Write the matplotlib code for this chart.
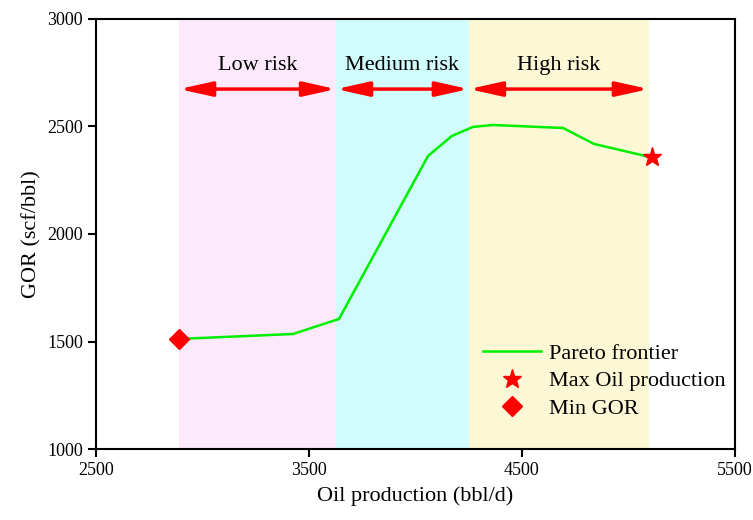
import matplotlib.pyplot as plt

plt.rcParams['font.family'] = ['Liberation Serif', 'DejaVu Serif']

# pareto frontier
oil = [2890, 3425, 3641, 4059, 4171, 4270, 4364, 4693, 4838, 5101]
gor = [1512, 1535, 1605, 2363, 2456, 2498, 2507, 2493, 2419, 2358]

max_oil = (5110, 2358)
min_gor = (2890, 1512)

# risk zones
zone_edges = [2890, 3627, 4251, 5096]
zone_names = ["Low risk", "Medium risk", "High risk"]
zone_colors = ["#FCE9FC", "#D0FCFC", "#FCF8D6"]
arrow_y = 2674
label_y = 2785

fig = plt.figure(figsize=(7.53, 5.2), dpi=100)
ax = fig.add_axes([0.1275, 0.1365, 0.8485, 0.827])

for i in range(3):
    ax.axvspan(zone_edges[i], zone_edges[i + 1], color=zone_colors[i], lw=0, zorder=0)
    ax.annotate("", xy=(zone_edges[i + 1], arrow_y), xytext=(zone_edges[i], arrow_y),
                arrowprops=dict(arrowstyle="<|-|>,head_length=0.9,head_width=0.2",
                                color="red", lw=2.5, mutation_scale=22,
                                shrinkA=0, shrinkB=0))
    ax.text((zone_edges[i] + zone_edges[i + 1]) / 2, label_y, zone_names[i],
            ha="center", va="center", fontsize=16)

ax.plot(oil, gor, color="#00EE00", lw=1.8, label="Pareto frontier", zorder=3)
ax.plot(*max_oil, marker="*", color="red", ms=14, ls="none", label="Max Oil production", zorder=4)
ax.plot(*min_gor, marker="D", color="red", ms=10, ls="none", label="Min GOR", zorder=4)

ax.set_xlim(2500, 5500)
ax.set_ylim(1000, 3000)
ax.set_xticks([2500, 3500, 4500, 5500])
ax.set_yticks([1000, 1500, 2000, 2500, 3000])
ax.tick_params(direction="out", length=6, width=1.5, labelsize=13)
for s in ax.spines.values():
    s.set_linewidth(1.5)

ax.set_xlabel("Oil production (bbl/d)", fontsize=16, labelpad=5)
ax.set_ylabel("GOR (scf/bbl)", fontsize=16, labelpad=4)

ax.legend(loc="lower right", bbox_to_anchor=(1.0, 0.05), borderaxespad=0,
          frameon=False, fontsize=16, handlelength=2.6, handletextpad=0.4,
          labelspacing=0.3)

fig.savefig("out.png", dpi=100)
